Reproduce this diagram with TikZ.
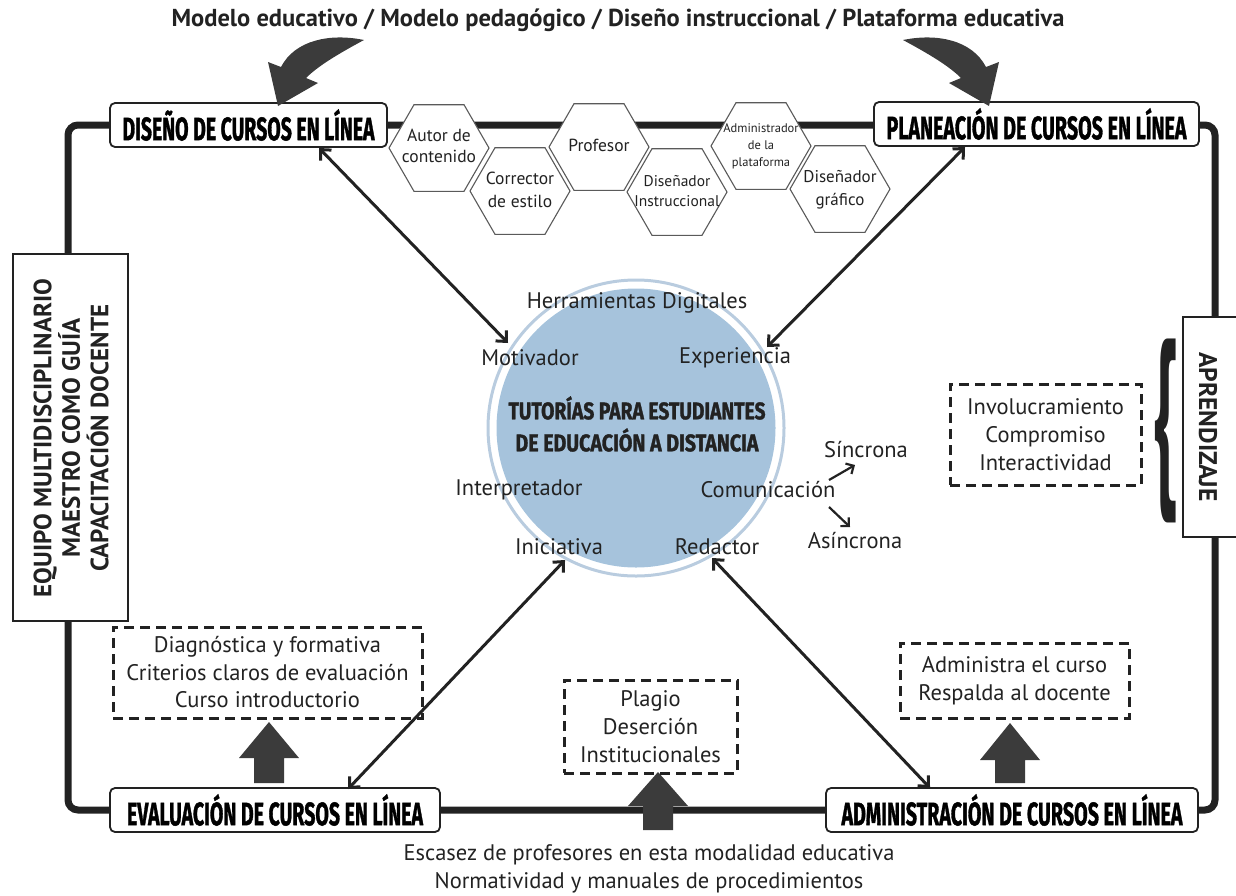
\documentclass[tikz,border=0pt]{standalone}
\usepackage{fontspec}
\setmainfont{PT Sans}
\newfontfamily\headfont{Fira Sans}[BoldFeatures={FakeBold=1.5}]
\usetikzlibrary{shapes.geometric,arrows.meta}
\definecolor{ink}{HTML}{222222}
\definecolor{circfill}{HTML}{A6C3DC}
\definecolor{ringcol}{HTML}{B9CCDF}
\definecolor{blk}{HTML}{3B3B3B}
\definecolor{hexline}{HTML}{5A5A5A}
\newcommand\hd[3]{\resizebox{#1pt}{#2pt}{\headfont\bfseries #3}}
\newcommand\hx[3]{\makebox[0pt]{\fontsize{#1}{#2}\selectfont\begin{tabular}{@{}c@{}}#3\end{tabular}}}
\newcommand\blkarrow[4]{\fill[blk] (#1,#2) -- (#1+30,#3) -- (#1+15,#3) -- (#1+15,#4) -- (#1-15,#4) -- (#1-15,#3) -- (#1-30,#3) -- cycle;}
\begin{document}
\begin{tikzpicture}[x=1pt,y=-1pt,
  hbox/.style={draw=ink, line width=1.8pt, rounded corners=5pt, fill=white, inner sep=0pt},
  hexa/.style={regular polygon, regular polygon sides=6, minimum size=100pt, inner sep=0pt, draw=hexline, line width=1.1pt, fill=white, text=ink},
  dbox/.style={draw=ink, line width=3pt, dash pattern=on 10pt off 6pt, inner sep=0pt, align=center, text=ink, font=\fontsize{22.5}{27.5}\selectfont},
  lbl/.style={text=ink, font=\fontsize{22.5}{26}\selectfont, inner sep=0pt},
  conn/.style={draw=ink, line width=3pt, {Straight Barb[length=8pt,width=15pt]}-{Straight Barb[length=8pt,width=15pt]}},
  small/.style={draw=ink, line width=2.2pt, -{Straight Barb[length=6pt,width=12pt]}},
  frame/.style={draw=ink, line width=7pt, rounded corners=10pt}]
\useasboundingbox (0,0) rectangle (1236,895);

% outer frame
\draw[frame] (68,125) rectangle (1215,810);

% side boxes
\draw[draw=ink, line width=1.6pt, fill=white] (13,254) rectangle (128,621);
\node[text=ink, rotate=90, align=center, inner sep=0pt, font=\fontsize{25}{28.5}\selectfont\bfseries] (equipo) at (71,438) {EQUIPO MULTIDISCIPLINARIO\\MAESTRO COMO GUÍA\\CAPACITACIÓN DOCENTE};
\draw[draw=ink, line width=1.6pt, fill=white] (1183,317) rectangle (1250,537);
\node[text=ink, rotate=-90, inner sep=0pt, font=\fontsize{25.5}{28}\selectfont\bfseries] (apr) at (1208,427) {APRENDIZAJE};
\node[text=ink, inner sep=0pt] (brace) at (1165,431) {\resizebox*{25pt}{184pt}{\fontsize{100}{100}\selectfont\bfseries\{}};

% heading boxes
\node[hbox, minimum width=277pt, minimum height=44pt] (dis) at (248.5,125) {\hd{252}{31}{DISEÑO DE CURSOS EN LÍNEA}};
\node[hbox, minimum width=325pt, minimum height=44pt] (pla) at (1036.5,124) {\hd{300}{31}{PLANEACIÓN DE CURSOS EN LÍNEA}};
\node[hbox, minimum width=330pt, minimum height=44pt] (eva) at (275,810) {\hd{296}{31}{EVALUACIÓN DE CURSOS EN LÍNEA}};
\node[hbox, minimum width=372pt, minimum height=44pt] (adm) at (1012,810) {\hd{341}{31}{ADMINISTRACIÓN DE CURSOS EN LÍNEA}};

% hexagons
\node[hexa] (h1) at (439,148) {\hx{17.5}{21}{Autor de\\contenido}};
\node[hexa] (h2) at (520,191) {\hx{17.5}{23}{Corrector\\de estilo}};
\node[hexa] (h3) at (599,147) {\hx{17.5}{21}{Profesor}};
\node[hexa] (h4) at (677,192) {\hx{15.5}{20}{Diseñador\\Instruccional}};
\node[hexa] (h5) at (761,146) {\raisebox{5pt}{\hx{12.5}{17}{Administrador\\de la\\plataforma}}};
\node[hexa] (h6) at (840,189) {\hx{17}{23}{Diseñador\\gráfico}};

% circle
\node[circle, fill=circfill, minimum size=279pt, inner sep=0pt] (circ) at (636,428) {};
\draw[ringcol, line width=3pt] (circ.center) circle[radius=148pt];
\node[inner sep=0pt, text=ink] (tut1) at (637,408) {\hd{257}{23}{TUTORÍAS PARA ESTUDIANTES}};
\node[inner sep=0pt, text=ink] (tut2) at (637,440) {\hd{243}{23}{DE EDUCACIÓN A DISTANCIA}};

% labels around circle
\node[lbl] (herr) at (637,303) {Herramientas Digitales};
\node[lbl] (mot) at (530,358) {Motivador};
\node[lbl] (exp) at (735,358) {Experiencia};
\node[lbl] (int) at (519,490) {Interpretador};
\node[lbl] (com) at (768,490) {Comunicación};
\node[lbl] (ini) at (559,547) {Iniciativa};
\node[lbl] (red) at (717,547) {Redactor};
\node[lbl] (sin) at (866,450) {Síncrona};
\node[lbl] (asi) at (855,541) {Asíncrona};

% connector end points
\coordinate (d1) at (319,148);
\coordinate (m1) at (508,343);
\coordinate (p1) at (965,147);
\coordinate (e1) at (767,347);
\coordinate (v1) at (348,789);
\coordinate (i1) at (565,560);
\coordinate (a1) at (930,788);
\coordinate (r1) at (712,558);
\draw[conn] (d1) -- (m1);
\draw[conn] (p1) -- (e1);
\draw[conn] (v1) -- (i1);
\draw[conn] (a1) -- (r1);

\coordinate (cs) at (829,480);
\coordinate (cs2) at (855,465);
\coordinate (ca) at (829,507);
\coordinate (ca2) at (850,527);
\draw[small] (cs) -- (cs2);
\draw[small] (ca) -- (ca2);

% dashed boxes
\node[dbox, minimum width=309pt, minimum height=91pt] (diag) at (267.5,672.5) {Diagnóstica y formativa\\Criterios claros de evaluación\\Curso introductorio};
\node[dbox, minimum width=173pt, minimum height=93pt, font=\fontsize{22.5}{28}\selectfont] (plag) at (650.5,726.5) {Plagio\\Deserción\\Institucionales};
\node[dbox, minimum width=229pt, minimum height=75pt] (admt) at (1014.5,680.5) {Administra el curso\\Respalda al docente};
\node[dbox, minimum width=191pt, minimum height=101pt, font=\fontsize{22.5}{28}\selectfont] (invo) at (1045.5,434.5) {Involucramiento\\Compromiso\\Interactividad};

% block arrows
\blkarrow{269}{722}{758}{783}
\blkarrow{658}{772}{806}{830}
\blkarrow{1010}{723}{760}{783}

% curved arrows
\fill[blk] (268,62) -- (278,106) -- (318,83) -- (306,78) .. controls (318,66) and (338,54) .. (364,40) .. controls (330,33) and (295,40) .. (281,67) -- cycle;
\fill[blk] (999,62) -- (989,106) -- (949,83) -- (961,78) .. controls (949,66) and (929,54) .. (903,40) .. controls (937,33) and (972,40) .. (986,67) -- cycle;

% texts
\node[text=ink, inner sep=0pt, font=\fontsize{24.5}{28}\selectfont\bfseries] (title) at (618,20) {Modelo educativo / Modelo pedagógico / Diseño instruccional / Plataforma educativa};
\node[text=ink, inner sep=0pt, align=center, font=\fontsize{22.5}{28}\selectfont] (bottom) at (649,869) {Escasez de profesores en esta modalidad educativa\\Normatividad y manuales de procedimientos};
\end{tikzpicture}
\end{document}
